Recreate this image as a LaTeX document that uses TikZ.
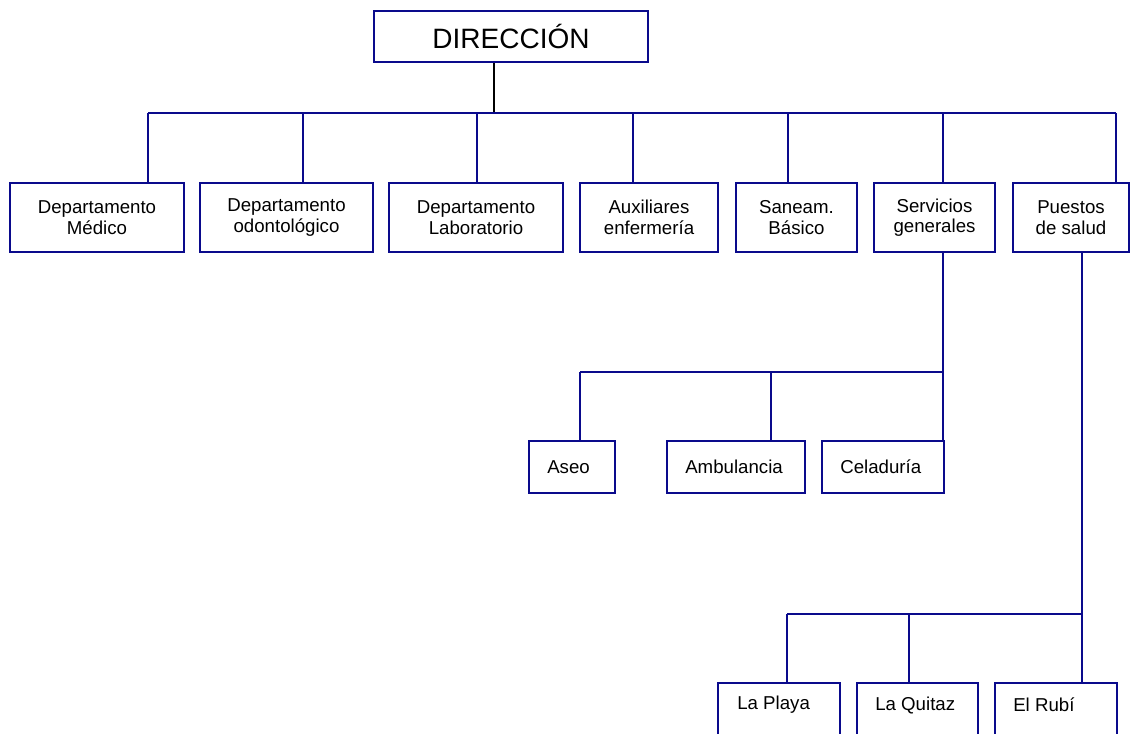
\documentclass[tikz,border=0pt]{standalone}
\usepackage{fontspec}
\setmainfont{Liberation Sans}
\definecolor{navy}{RGB}{10,10,140}
\begin{document}
\begin{tikzpicture}[x=0.75pt,y=-0.75pt,
  box/.style 2 args={draw=navy,line width=1pt,minimum width=#1*0.75pt,minimum height=#2*0.75pt,inner sep=0pt,align=center,font=\fontsize{14}{15.5}\selectfont},
  lbl/.style={anchor=west,inner sep=0pt,font=\fontsize{14}{15}\selectfont},
  conn/.style={draw=navy,line width=1pt},
  top/.style={draw=navy,line width=1.8pt,minimum width=274*0.75pt,minimum height=51*0.75pt,inner sep=0pt,font=\fontsize{21}{25}\selectfont}]
\useasboundingbox (0,0) rectangle (1131,733);
% top
\node[top] (dir) at (511,36.5) {DIRECCIÓN};
% first level
\node[box={174}{69}] (medico) at (97,217.5) {Departamento\\Médico};
\node[box={173}{69}] (odonto) at (286.5,217.5) {Departamento\\odontológico};
\node[box={174}{69}] (lab) at (476,217.5) {Departamento\\Laboratorio};
\node[box={138}{69}] (aux) at (649,217.5) {Auxiliares\\enfermería};
\node[box={121}{69}] (san) at (796.5,217.5) {Saneam.\\Básico};
\node[box={121}{69}] (serv) at (934.5,217.5) {Servicios\\generales};
\node[box={116}{69}] (puestos) at (1071,217.5) {Puestos\\de salud};
% bus 1
\coordinate (b0) at (494,113);
\coordinate (b1) at (148,113);
\coordinate (b2) at (303,113);
\coordinate (b3) at (477,113);
\coordinate (b4) at (633,113);
\coordinate (b5) at (788,113);
\coordinate (b6) at (943,113);
\coordinate (b7) at (1116,113);
\draw[black,line width=1pt] (dir.south -| b0) -- (b0);
\draw[conn] (b1) -- (b7);
\draw[conn] (b1) -- (b1 |- medico.north);
\draw[conn] (b2) -- (b2 |- odonto.north);
\draw[conn] (b3) -- (b3 |- lab.north);
\draw[conn] (b4) -- (b4 |- aux.north);
\draw[conn] (b5) -- (b5 |- san.north);
\draw[conn] (b6) -- (b6 |- serv.north);
\draw[conn] (b7) -- (b7 |- puestos.north);
% second level
\node[box={86}{52}] (aseo) at (572,467) {};
\node[box={138}{52}] (amb) at (736,467) {};
\node[box={122}{52}] (cel) at (883,467) {};
\node[lbl] (taseo) at (547,467) {Aseo};
\node[lbl] (tamb) at (685,467) {Ambulancia};
\node[lbl] (tcel) at (840,467) {Celaduría};
\coordinate (s1) at (580,372);
\coordinate (s2) at (771,372);
\coordinate (s3) at (943,372);
\draw[conn] (serv.south -| s3) -- (s3) -- (s1);
\draw[conn] (s1) -- (s1 |- aseo.north);
\draw[conn] (s2) -- (s2 |- amb.north);
\draw[conn] (s3) -- (s3 |- cel.north);
% third level
\node[box={122}{90}] (playa) at (779,728) {};
\node[box={121}{90}] (quitaz) at (917.5,728) {};
\node[box={122}{90}] (rubi) at (1056,728) {};
\node[lbl] (tplaya) at (737,705) {La Playa};
\node[lbl] (tquitaz) at (875,705) {La Quitaz};
\node[lbl] (trubi) at (1013,705) {El Rubí};
\coordinate (p1) at (787,614);
\coordinate (p2) at (909,614);
\coordinate (p3) at (1082,614);
\draw[conn] (puestos.south -| p3) -- (p3) -- (p1);
\draw[conn] (p1) -- (p1 |- playa.north);
\draw[conn] (p2) -- (p2 |- quitaz.north);
\draw[conn] (p3) -- (p3 |- rubi.north);
\end{tikzpicture}
\end{document}
